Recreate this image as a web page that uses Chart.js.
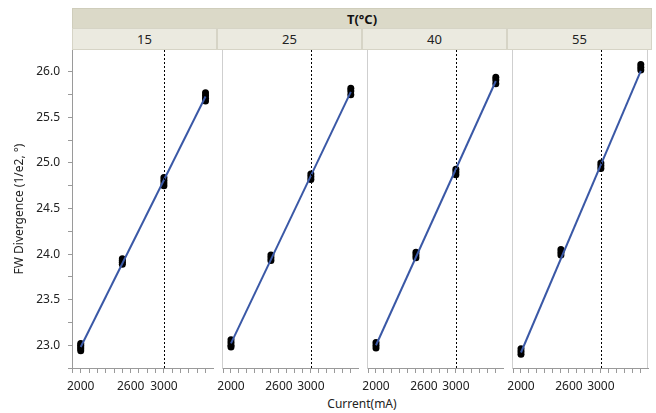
<!DOCTYPE html>
<html>
<head>
<meta charset="utf-8">
<script src="https://cdn.jsdelivr.net/npm/chart.js@4.4.1/dist/chart.umd.min.js"></script>
<style>
  body { margin: 0; background: #fff; font-family: "Noto Sans", sans-serif; }
  #wrap { position: relative; width: 656px; height: 413px; overflow: hidden; }
  #head { position: absolute; left: 72px; top: 8px; width: 580px; height: 20px; background: #dbd9c8;
          font-weight: bold; font-size: 13px; line-height: 20px; text-align: center; color: #111; box-sizing: border-box;
          border: 1px solid #cfcdbb; border-bottom: none; }
  .cell { position: absolute; top: 28px; height: 22px; background: #ebeae0; font-size: 13px; line-height: 21px;
          text-align: center; color: #222; box-sizing: border-box; border: 1px solid #d6d4c6; }
  canvas { position: absolute; }
  #xtitle { position: absolute; top: 395px; left: 72px; width: 580px; text-align: center; font-size: 12px; color: #222; }
</style>
</head>
<body>
<div id="wrap">
  <div id="head">T(°C)</div>
  <div id="xtitle">Current(mA)</div>
</div>
<script>
// panels (temperature, °C)
const temps = ['15', '25', '40', '55'];
// measurement currents (mA)
const currents = [2000, 2500, 3000, 3500];

// FW Divergence samples, one row per current
const fw15 = [[23.02, 23.00, 22.98, 22.96, 22.94], [23.95, 23.93, 23.91, 23.89], [24.84, 24.81, 24.78, 24.75], [25.77, 25.74, 25.71, 25.68]];
const fw25 = [[23.06, 23.03, 23.00, 22.98], [23.99, 23.96, 23.93], [24.88, 24.85, 24.82], [25.82, 25.79, 25.75]];
const fw40 = [[23.03, 23.00, 22.97], [24.02, 23.99, 23.96], [24.93, 24.90, 24.87], [25.94, 25.91, 25.87]];
const fw55 = [[22.96, 22.93, 22.90], [24.05, 24.02, 23.99], [25.00, 24.97, 24.94], [26.08, 26.05, 26.02]];

// fitted line ends
const fitCurrents = [2000, 3500];
const fit15 = [22.98, 25.73];
const fit25 = [23.02, 25.78];
const fit40 = [23.00, 25.90];
const fit55 = [22.92, 26.01];

const refCurrent = 3000;
const xTickLabels = [2000, 2600, 3000];
const yTickLabels = [23.0, 23.5, 24.0, 24.5, 25.0, 25.5, 26.0];

const allFw = [fw15, fw25, fw40, fw55];
const allFit = [fit15, fit25, fit40, fit55];

const wrap = document.getElementById('wrap');
const panelLefts = [72, 217, 362, 507];
const panelW = 145;

// reference line + panel borders
const refLine = {
    id: 'refLine',
    afterDatasetsDraw(chart, args, opts) {
        const ctx = chart.ctx, a = chart.chartArea;
        const x = Math.round(chart.scales.x.getPixelForValue(refCurrent)) + 0.5;
        ctx.save();
        ctx.strokeStyle = '#000';
        ctx.lineWidth = 1;
        ctx.setLineDash([2, 2]);
        ctx.beginPath();
        ctx.moveTo(x, a.top);
        ctx.lineTo(x, a.bottom);
        ctx.stroke();
        ctx.setLineDash([]);
        if (opts.last) {
            ctx.strokeStyle = '#cfcfcf';
            ctx.beginPath();
            ctx.moveTo(a.right - 0.5, a.top);
            ctx.lineTo(a.right - 0.5, a.bottom);
            ctx.stroke();
        }
        ctx.restore();
    }
};

temps.forEach((t, p) => {
    const cell = document.createElement('div');
    cell.className = 'cell';
    cell.style.left = panelLefts[p] + 'px';
    cell.style.width = panelW + 'px';
    cell.textContent = t;
    wrap.appendChild(cell);

    const first = p === 0;
    const canvas = document.createElement('canvas');
    const left = first ? 0 : panelLefts[p];
    const w = first ? panelLefts[0] + panelW : panelW;
    canvas.width = w;
    canvas.height = 379;
    canvas.style.left = left + 'px';
    canvas.style.top = '34px';
    wrap.appendChild(canvas);

    const pts = [];
    allFw[p].forEach((row, i) => row.forEach(v => pts.push({ x: currents[i], y: v })));
    const fit = allFit[p].map((v, i) => ({ x: fitCurrents[i], y: v }));

    new Chart(canvas, {
        type: 'scatter',
        data: {
            datasets: [{
                type: 'line',
                data: fit,
                borderColor: '#3a58a6',
                borderWidth: 2,
                pointRadius: 0,
                fill: false
            }, {
                data: pts,
                backgroundColor: '#000',
                borderColor: '#000',
                borderWidth: 0,
                pointRadius: 3.5
            }]
        },
        options: {
            responsive: false,
            animation: false,
            layout: { padding: { top: 16, left: 0, right: 0, bottom: 0 } },
            plugins: { legend: { display: false }, tooltip: { enabled: false }, refLine: { last: p === 3 } },
            scales: {
                x: {
                    type: 'linear',
                    min: 1895,
                    max: 3590,
                    afterFit: s => { s.height = 45; },
                    afterBuildTicks: s => {
                        const ticks = [];
                        for (let v = 1900; v <= 3500; v += 100) ticks.push({ value: v });
                        s.ticks = ticks;
                    },
                    ticks: {
                        autoSkip: false,
                        maxRotation: 0,
                        padding: 6,
                        color: '#222',
                        font: { family: 'Noto Sans', size: 12 },
                        callback: v => xTickLabels.includes(v) ? String(v) : ''
                    },
                    grid: { drawOnChartArea: false, tickLength: 5, color: '#9a9a9a' },
                    border: { color: '#9a9a9a' }
                },
                y: first ? {
                    min: 22.75,
                    max: 26.24,
                    afterFit: s => { s.width = 72; },
                    afterBuildTicks: s => {
                        const ticks = [];
                        for (let i = 0; i <= 13; i++) ticks.push({ value: (2275 + 25 * i) / 100 });
                        s.ticks = ticks;
                    },
                    ticks: {
                        autoSkip: false,
                        padding: 8,
                        color: '#222',
                        font: { family: 'Noto Sans', size: 12 },
                        callback: v => yTickLabels.includes(v) ? v.toFixed(1) : ''
                    },
                    grid: { drawOnChartArea: false, tickLength: 4, color: '#9a9a9a' },
                    border: { color: '#9a9a9a' },
                    title: {
                        display: true,
                        text: 'FW Divergence (1/e2, °)',
                        color: '#222',
                        font: { family: 'Noto Sans', size: 12 },
                        padding: { top: 12, bottom: 0 }
                    }
                } : {
                    min: 22.75,
                    max: 26.24,
                    afterFit: s => { s.width = 0; },
                    ticks: { display: false },
                    grid: { display: false },
                    border: { color: '#cfcfcf' }
                }
            }
        },
        plugins: [refLine]
    });
});
</script>
</body>
</html>
